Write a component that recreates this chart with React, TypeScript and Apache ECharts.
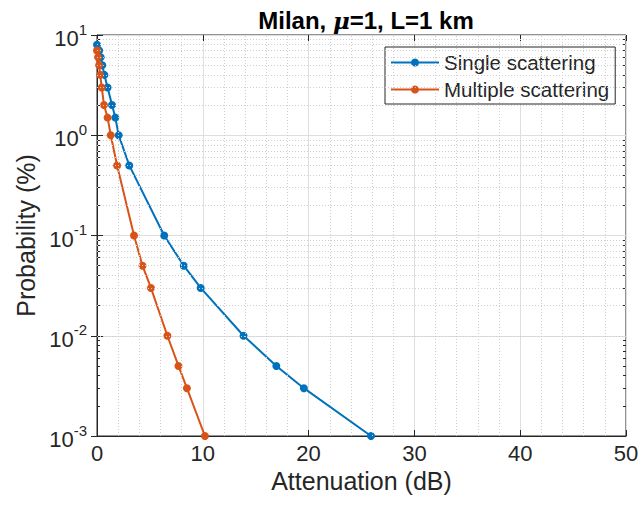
import React, { useEffect, useRef } from "react";
import * as echarts from "echarts";

// Attenuation (dB) and probability (%) for each scattering model
const singleAtt = [0, 0.2, 0.35, 0.5, 0.7, 1.0, 1.42, 1.73, 2.05, 3.05, 6.35, 8.2, 9.8, 13.85, 16.95, 19.55, 25.9];
const singleProb = [8, 7, 6, 5, 4, 3, 2, 1.5, 1, 0.5, 0.1, 0.05, 0.03, 0.01, 0.005, 0.003, 0.001];

const multiAtt = [0, 0.1, 0.2, 0.3, 0.45, 0.66, 1.0, 1.3, 1.9, 3.5, 4.3, 5.1, 6.65, 7.7, 8.5, 10.2];
const multiProb = [7, 6, 5, 4, 3, 2, 1.5, 1, 0.5, 0.1, 0.05, 0.03, 0.01, 0.005, 0.003, 0.001];

const xTicks = [0, 10, 20, 30, 40, 50];
const decades = [-3, -2, -1, 0, 1];

const FONT = "'Liberation Sans', Arial, Helvetica, sans-serif";
const TEXT = "#262626";
const BLUE = "#0072BD";
const ORANGE = "#D95319";

// minor grid positions: 2..9 within each decade, every 2 dB between majors
const minorY: number[] = [];
decades.slice(0, -1).forEach((d) => {
  for (let k = 2; k <= 9; k++) minorY.push(k * Math.pow(10, d));
});
const minorX: number[] = [];
for (let v = 2; v < 50; v += 2) if (v % 10 !== 0) minorX.push(v);

export default function App() {
  const ref = useRef<HTMLDivElement>(null);

  useEffect(() => {
    if (!ref.current) return;
    const chart = echarts.init(ref.current, undefined, { renderer: "svg" });
    const pairs = (xs: number[], ys: number[]) => xs.map((x, i) => [x, ys[i]]);

    // axes used only for the box ticks on the opposite sides
    const tickOnlyX = (position: string) => ({
      type: "value",
      position,
      min: 0,
      max: 50,
      interval: 10,
      axisLine: { show: false },
      axisTick: { show: true, inside: true, length: 6, lineStyle: { color: TEXT } },
      axisLabel: { show: false },
      splitLine: { show: false },
    });
    const tickOnlyY = (position: string, minor: boolean) => ({
      type: "log",
      logBase: 10,
      position,
      min: 0.001,
      max: 10,
      axisLine: { show: false },
      axisTick: minor
        ? { show: true, inside: true, length: 3, customValues: minorY, lineStyle: { color: TEXT } }
        : { show: true, inside: true, length: 6, lineStyle: { color: TEXT } },
      axisLabel: { show: false },
      splitLine: { show: false },
    });

    chart.setOption({
      animation: false,
      backgroundColor: "#ffffff",
      title: {
        text: "{a|Milan, }{mu|μ}{a|=1, L=1 km}",
        left: 361,
        textAlign: "center",
        top: 3,
        textStyle: {
          rich: {
            a: { fontFamily: FONT, fontWeight: "bold", fontSize: 24, color: "#000" },
            mu: { fontFamily: "'DejaVu Serif', 'Liberation Serif', serif", fontStyle: "italic", fontSize: 23, color: "#000" },
          },
        },
      },
      grid: {
        left: 97,
        right: 17,
        top: 35,
        bottom: 78,
        show: true,
        borderColor: TEXT,
        borderWidth: 1,
        backgroundColor: "#ffffff",
      },
      legend: {
        left: 385,
        top: 47,
        orient: "vertical",
        backgroundColor: "#ffffff",
        borderColor: TEXT,
        borderWidth: 1,
        borderRadius: 0,
        padding: [5, 6, 4, 5],
        itemWidth: 48,
        itemHeight: 10,
        itemGap: 6,
        textStyle: { fontFamily: FONT, fontSize: 20.5, color: TEXT },
        data: ["Single scattering", "Multiple scattering"],
      },
      xAxis: [
        {
          type: "value",
          min: 0,
          max: 50,
          interval: 10,
          name: "Attenuation (dB)",
          nameLocation: "middle",
          nameGap: 25,
          nameTextStyle: { fontFamily: FONT, fontSize: 25, color: TEXT },
          axisLine: { show: true, lineStyle: { color: TEXT } },
          axisTick: { show: true, inside: true, length: 6, lineStyle: { color: TEXT } },
          axisLabel: {
            fontFamily: FONT,
            fontSize: 22,
            color: TEXT,
            margin: 6,
            formatter: (v: number) => (xTicks.includes(v) ? String(v) : ""),
          },
          splitLine: { show: true, lineStyle: { color: "#dedede", width: 1 } },
        },
        tickOnlyX("top"),
      ],
      yAxis: [
        {
          type: "log",
          logBase: 10,
          min: 0.001,
          max: 10,
          name: "Probability (%)",
          nameLocation: "middle",
          nameGap: 57,
          nameTextStyle: { fontFamily: FONT, fontSize: 25, color: TEXT },
          axisLine: { show: true, lineStyle: { color: TEXT } },
          axisTick: { show: true, inside: true, length: 6, lineStyle: { color: TEXT } },
          axisLabel: {
            margin: 10,
            formatter: (v: number) => {
              const e = Math.round(Math.log10(v));
              return `{b|10}{e|${e}}`;
            },
            rich: {
              b: { fontFamily: FONT, fontSize: 22, color: TEXT, padding: [7, 0, 0, 0] },
              e: { fontFamily: FONT, fontSize: 15, color: TEXT, padding: [0, 0, 12, 0] },
            },
          },
          splitLine: { show: true, lineStyle: { color: "#dedede", width: 1 } },
        },
        tickOnlyY("right", false),
        tickOnlyY("left", true),
        tickOnlyY("right", true),
      ],
      series: [
        {
          // minor grid drawn as dotted lines at axis values
          type: "line",
          data: [],
          silent: true,
          z: 1,
          markLine: {
            silent: true,
            symbol: "none",
            label: { show: false },
            lineStyle: { color: "#cfcfcf", type: [1, 2], width: 1 },
            data: [
              ...minorY.map((v) => ({ yAxis: v })),
              ...minorX.map((v) => ({ xAxis: v })),
            ],
          },
        },
        {
          name: "Single scattering",
          type: "line",
          data: pairs(singleAtt, singleProb),
          symbol: "circle",
          symbolSize: 8,
          itemStyle: { color: BLUE, borderWidth: 0 },
          lineStyle: { color: BLUE, width: 2 },
          z: 3,
        },
        {
          name: "Multiple scattering",
          type: "line",
          data: pairs(multiAtt, multiProb),
          symbol: "circle",
          symbolSize: 8,
          itemStyle: { color: ORANGE, borderWidth: 0 },
          lineStyle: { color: ORANGE, width: 2 },
          z: 4,
        },
      ],
    });

    return () => chart.dispose();
  }, []);

  return (
    <div
      ref={ref}
      style={{ position: "absolute", left: 0, top: 0, width: 643, height: 514 }}
    />
  );
}
